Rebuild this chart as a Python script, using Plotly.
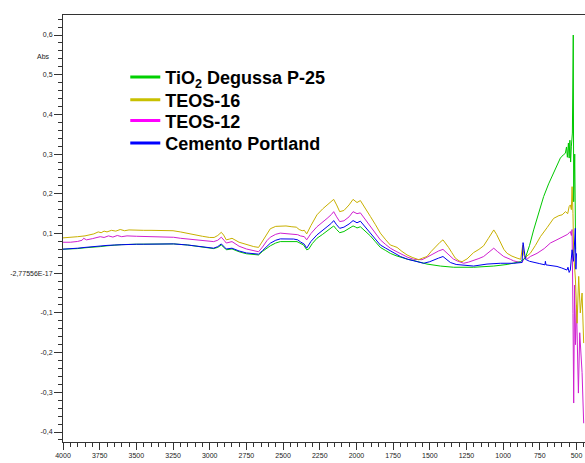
import plotly.graph_objects as go

# ---------------- data ----------------
tio2_x = [4000, 3950, 3900, 3850, 3800, 3746, 3700, 3650, 3600, 3500, 3400, 3246, 3150, 3050,
          2973, 2945, 2921, 2900, 2887, 2848, 2800, 2750, 2700, 2667, 2640, 2610, 2587, 2550,
          2519, 2405, 2382, 2360, 2339, 2326, 2300, 2269, 2230, 2200, 2170, 2155, 2135, 2114,
          2085, 2050, 2023, 2005, 1996, 1973, 1940, 1905, 1870, 1837, 1800, 1769, 1730, 1700,
          1650, 1610, 1519, 1428, 1337, 1201, 1064, 973, 920, 883, 849, 820, 792, 760, 724,
          690, 656, 630, 610, 590, 576, 568, 562, 555, 550, 545, 540, 535, 528, 522, 519,
          512, 506]
tio2_y = [0.0605, 0.061, 0.062, 0.064, 0.065, 0.067, 0.069, 0.071, 0.072, 0.073, 0.074, 0.0738,
          0.071, 0.066, 0.062, 0.065, 0.071, 0.064, 0.059, 0.061, 0.054, 0.049, 0.047, 0.046,
          0.055, 0.064, 0.069, 0.076, 0.0796, 0.0796, 0.075, 0.071, 0.059, 0.0605, 0.075, 0.088,
          0.098, 0.107, 0.114, 0.119, 0.110, 0.102, 0.105, 0.112, 0.119, 0.116, 0.114, 0.117,
          0.106, 0.094, 0.079, 0.065, 0.057, 0.050, 0.044, 0.040, 0.035, 0.032, 0.023, 0.018,
          0.015, 0.015, 0.018, 0.022, 0.026, 0.029, 0.038, 0.070, 0.109, 0.150, 0.193, 0.225,
          0.252, 0.272, 0.290, 0.298, 0.302, 0.318, 0.292, 0.328, 0.290, 0.335, 0.280, 0.320,
          0.353, 0.600, 0.180, 0.300, 0.060]

teos16_x = [4000, 3950, 3900, 3850, 3820, 3790, 3760, 3740, 3720, 3700, 3670, 3640, 3610, 3580,
            3550, 3500, 3450, 3400, 3350, 3300, 3250, 3200, 3150, 3100, 3050, 3000, 2970, 2945,
            2921, 2905, 2887, 2865, 2848, 2800, 2750, 2700, 2667, 2640, 2610, 2587, 2550, 2519,
            2480, 2440, 2410, 2390, 2370, 2355, 2339, 2310, 2269, 2230, 2200, 2170, 2155, 2135,
            2114, 2085, 2050, 2023, 2005, 1996, 1973, 1940, 1905, 1870, 1837, 1800, 1769, 1745,
            1723, 1690, 1655, 1620, 1576, 1550, 1519, 1490, 1451, 1430, 1410, 1390, 1372, 1350,
            1326, 1300, 1280, 1246, 1220, 1201, 1165, 1133, 1100, 1075, 1064, 1045, 1019, 995,
            973, 940, 905, 880, 867, 858, 849, 815, 780, 746, 700, 656, 620, 598, 575, 560, 550,
            542, 535, 530, 524, 519, 507, 496, 485, 474, 462, 451]
teos16_y = [0.089, 0.090, 0.092, 0.094, 0.097, 0.099, 0.104, 0.102, 0.106, 0.104, 0.108, 0.106,
            0.110, 0.107, 0.109, 0.108, 0.108, 0.108, 0.108, 0.108, 0.107, 0.104, 0.100, 0.096,
            0.093, 0.090, 0.090, 0.095, 0.103, 0.096, 0.084, 0.086, 0.088, 0.078, 0.072, 0.067,
            0.065, 0.080, 0.100, 0.112, 0.118, 0.119, 0.119, 0.117, 0.116, 0.110, 0.107, 0.108,
            0.099, 0.120, 0.147, 0.162, 0.172, 0.180, 0.186, 0.172, 0.155, 0.158, 0.172, 0.186,
            0.182, 0.178, 0.183, 0.165, 0.143, 0.122, 0.101, 0.084, 0.071, 0.068, 0.065, 0.055,
            0.046, 0.040, 0.034, 0.038, 0.042, 0.055, 0.071, 0.078, 0.084, 0.075, 0.065, 0.052,
            0.038, 0.031, 0.029, 0.036, 0.045, 0.052, 0.060, 0.069, 0.088, 0.104, 0.109, 0.098,
            0.078, 0.060, 0.050, 0.043, 0.038, 0.035, 0.070, 0.045, 0.040, 0.050, 0.070, 0.092,
            0.115, 0.138, 0.145, 0.147, 0.155, 0.150, 0.168, 0.172, 0.160, 0.218, 0.150, 0.050,
            -0.017, -0.126, -0.008, -0.100, -0.050, -0.176]

teos12_x = [4000, 3950, 3900, 3870, 3859, 3840, 3800, 3770, 3746, 3720, 3690, 3660, 3630, 3600,
            3564, 3500, 3400, 3300, 3246, 3200, 3100, 3000, 2973, 2945, 2921, 2900, 2887, 2848,
            2800, 2750, 2700, 2667, 2640, 2610, 2587, 2550, 2519, 2450, 2400, 2382, 2355, 2339,
            2310, 2269, 2230, 2200, 2170, 2155, 2135, 2114, 2085, 2050, 2023, 2005, 1996, 1973,
            1940, 1905, 1870, 1837, 1800, 1769, 1730, 1700, 1650, 1610, 1553, 1520, 1474, 1440,
            1410, 1390, 1372, 1340, 1314, 1269, 1235, 1201, 1165, 1133, 1100, 1064, 1040, 1019,
            996, 951, 928, 883, 871, 849, 835, 815, 769, 720, 678, 640, 610, 580, 560, 550, 542,
            535, 530, 524, 519, 513, 507, 500, 487, 478, 470, 462, 451]
teos12_y = [0.078, 0.078, 0.080, 0.083, 0.088, 0.084, 0.087, 0.090, 0.092, 0.090, 0.094, 0.091,
            0.095, 0.092, 0.094, 0.093, 0.092, 0.091, 0.0905, 0.088, 0.084, 0.080, 0.0796, 0.083,
            0.0907, 0.082, 0.076, 0.0796, 0.068, 0.061, 0.056, 0.054, 0.066, 0.082, 0.0907,
            0.098, 0.101, 0.099, 0.097, 0.094, 0.092, 0.084, 0.100, 0.117, 0.128, 0.138, 0.148,
            0.155, 0.142, 0.130, 0.132, 0.142, 0.155, 0.152, 0.150, 0.152, 0.135, 0.117, 0.100,
            0.084, 0.072, 0.063, 0.055, 0.049, 0.040, 0.035, 0.034, 0.040, 0.050, 0.056, 0.060,
            0.053, 0.045, 0.036, 0.031, 0.025, 0.028, 0.032, 0.037, 0.042, 0.052, 0.063, 0.055,
            0.048, 0.042, 0.035, 0.031, 0.027, 0.027, 0.042, 0.036, 0.042, 0.050, 0.062, 0.076,
            0.083, 0.088, 0.094, 0.098, 0.102, 0.105, 0.095, 0.110, -0.101, -0.327, -0.030,
            -0.180, -0.080, -0.302, -0.150, -0.200, -0.250, -0.378]

cemento_x = [4000, 3950, 3900, 3850, 3800, 3746, 3700, 3650, 3600, 3500, 3451, 3350, 3246, 3150,
             3050, 2973, 2945, 2921, 2900, 2887, 2848, 2800, 2750, 2700, 2667, 2640, 2610, 2587,
             2550, 2519, 2428, 2400, 2382, 2355, 2339, 2310, 2269, 2230, 2200, 2170, 2155, 2135,
             2114, 2085, 2050, 2023, 2005, 1996, 1973, 1940, 1905, 1870, 1837, 1800, 1769, 1730,
             1700, 1650, 1610, 1542, 1500, 1474, 1440, 1410, 1385, 1360, 1320, 1292, 1201, 1110,
             1019, 928, 883, 871, 864, 855, 848, 820, 792, 750, 715, 712, 708, 670, 633, 600, 565,
             558, 550, 542, 530, 520, 508, 504, 500]
cemento_y = [0.0605, 0.061, 0.063, 0.065, 0.067, 0.0688, 0.070, 0.071, 0.072, 0.073, 0.073, 0.074,
             0.0738, 0.071, 0.066, 0.063, 0.067, 0.0738, 0.066, 0.061, 0.063, 0.056, 0.051, 0.049,
             0.048, 0.057, 0.069, 0.0755, 0.083, 0.0864, 0.086, 0.084, 0.079, 0.073, 0.063, 0.080,
             0.0965, 0.107, 0.117, 0.126, 0.1325, 0.122, 0.113, 0.116, 0.124, 0.1325, 0.129, 0.127,
             0.131, 0.117, 0.101, 0.085, 0.071, 0.063, 0.057, 0.049, 0.042, 0.035, 0.031, 0.025,
             0.029, 0.0335, 0.038, 0.042, 0.034, 0.027, 0.022, 0.021, 0.018, 0.023, 0.025, 0.025,
             0.026, 0.027, 0.077, 0.045, 0.035, 0.030, 0.027, 0.024, 0.021, 0.030, 0.021, 0.019,
             0.017, 0.013, 0.008, 0.015, 0.002, 0.008, 0.059, 0.030, 0.113, 0.010, 0.050]

y_tick_vals = [0.6, 0.5, 0.4, 0.3, 0.2, 0.1, 0.0, -0.1, -0.2, -0.3, -0.4]
y_tick_text = ["0,6", "0,5", "0,4", "0,3", "0,2", "0,1", "-2,77556E-17",
               "-0,1", "-0,2", "-0,3", "-0,4"]
x_tick_vals = [4000, 3750, 3500, 3250, 3000, 2750, 2500, 2250, 2000, 1750, 1500, 1250, 1000, 750, 500]
x_tick_text = [str(v) for v in x_tick_vals]

series_names = ["TiO<sub>2</sub> Degussa P-25", "TEOS-16", "TEOS-12", "Cemento Portland"]
line_colors = ["#00c800", "#c8b000", "#d020d0", "#0000f0"]
legend_colors = ["#00d000", "#c8c000", "#ff00ff", "#0000ff"]
series_x = [tio2_x, teos16_x, teos12_x, cemento_x]
series_y = [tio2_y, teos16_y, teos12_y, cemento_y]

fig = go.Figure()
# draw order so that green and blue end up on top, as in the reference
for i in [2, 1, 0, 3]:
    fig.add_trace(go.Scatter(x=series_x[i], y=series_y[i], mode="lines",
                             line=dict(color=line_colors[i], width=1),
                             showlegend=False, hoverinfo="skip"))

legend_ids = ["legend", "legend2", "legend3", "legend4"]
for i in range(4):
    fig.add_trace(go.Scatter(x=[None], y=[None], mode="lines", name=series_names[i],
                             line=dict(color=legend_colors[i], width=3),
                             showlegend=True, legend=legend_ids[i]))

tick_font = dict(family="Liberation Sans, Arial, sans-serif", size=7, color="#222222")
leg_font = dict(family="Liberation Sans, Arial, sans-serif", size=18, color="black", weight="bold")
leg_rows = [0.854, 0.801, 0.752, 0.6995]

legend_layout = {}
for lid, ly in zip(legend_ids, leg_rows):
    legend_layout[lid] = dict(x=0.1193, y=ly, xanchor="left", yanchor="middle", font=leg_font,
                              bgcolor="rgba(0,0,0,0)", borderwidth=0)

fig.update_layout(
    width=585, height=463,
    margin=dict(l=63, r=0, t=15, b=21, autoexpand=False),
    paper_bgcolor="white", plot_bgcolor="white",
    showlegend=True,
    xaxis=dict(range=[4000, 442], tickmode="array", tickvals=x_tick_vals, ticktext=x_tick_text,
               ticks="outside", ticklen=7, tickwidth=1, tickcolor="#333333",
               minor=dict(tickmode="linear", tick0=0, dtick=50, ticks="outside", ticklen=4,
                          tickwidth=1, tickcolor="#333333", showgrid=False),
               showline=True, linecolor="#333333", linewidth=1, mirror=True, automargin=False,
               showgrid=False, zeroline=False, tickfont=tick_font),
    yaxis=dict(range=[-0.4252, 0.6504], tickmode="array", tickvals=y_tick_vals, ticktext=y_tick_text,
               ticks="outside", ticklen=8, tickwidth=1, tickcolor="#333333",
               minor=dict(tickmode="linear", tick0=0, dtick=0.02, ticks="outside", ticklen=4,
                          tickwidth=1, tickcolor="#333333", showgrid=False),
               showline=True, linecolor="#333333", linewidth=1, automargin=False,
               showgrid=False, zeroline=False, tickfont=tick_font),
    annotations=[dict(text="Abs", xref="paper", x=0, xanchor="right", xshift=-11,
                      yref="y", y=0.546, yanchor="middle", showarrow=False,
                      font=dict(family="Liberation Sans, Arial, sans-serif", size=7, color="#222222"))],
    **legend_layout,
)

fig.write_html("out.html", config={"displayModeBar": False},
               post_script="document.body.style.margin='0';document.body.style.overflow='hidden';")
